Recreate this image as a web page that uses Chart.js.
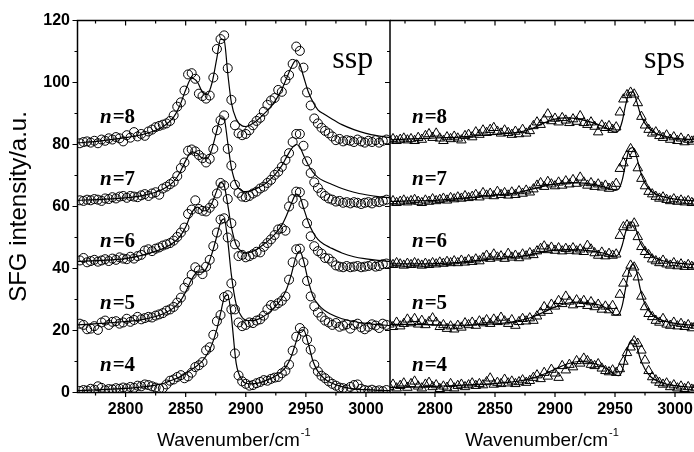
<!DOCTYPE html>
<html><head><meta charset="utf-8">
<script src="https://cdn.jsdelivr.net/npm/chart.js"></script>
<style>
html,body{margin:0;padding:0;background:#fff;overflow:hidden;width:694px;height:452px;}
#wrap{position:relative;width:694px;height:452px;overflow:hidden;background:#fff;}
canvas{position:absolute;top:0;display:block;}
#c1{left:0;}
#c2{left:380px;}
</style></head><body>
<div id="wrap"><canvas id="c1" width="400" height="452"></canvas><canvas id="c2" width="330" height="452"></canvas></div>
<script>
// ---------- data ----------
const wavenumbers = [2762,2765,2768,2771,2774,2777,2780,2783,2786,2789,
2792,2795,2798,2801,2804,2807,2810,2813,2816,2819,
2822,2825,2828,2831,2834,2837,2840,2843,2846,2849,
2852,2855,2858,2861,2864,2867,2870,2873,2876,2879,
2882,2885,2888,2891,2894,2897,2900,2903,2906,2909,
2912,2915,2918,2921,2924,2927,2930,2933,2936,2939,
2942,2945,2948,2951,2954,2957,2960,2963,2966,2969,
2972,2975,2978,2981,2984,2987,2990,2993,2996,2999,
3002,3005,3008,3011,3014,3017];

const ssp4 = [0.5,0.8,0.6,1.2,0.9,2.0,1.5,0.7,1.1,1.0,
1.4,1.2,1.6,1.3,1.8,1.5,2.2,2.0,2.6,2.4,
2.0,1.6,1.2,1.4,2.6,3.8,4.2,5.0,5.6,4.6,
5.2,6.4,8.2,8.8,9.8,13.6,14.6,18.6,23.0,25.0,
30.8,31.4,26.8,12.6,5.5,3.6,2.8,2.2,2.4,3.0,
3.4,4.0,3.8,4.4,4.8,5.0,6.2,7.0,9.0,13.5,
18.0,20.8,19.6,17.0,13.8,9.0,6.8,5.4,4.6,3.6,
2.8,2.2,1.6,1.4,1.0,1.8,2.4,2.6,1.2,0.8,
0.6,0.9,0.5,0.7,0.4,0.8];
const ssp5 = [22.2,21.8,20.4,20.6,21.4,20.2,22.6,23.2,21.8,22.8,
23.0,22.2,22.6,23.8,22.8,23.4,24.4,23.6,24.0,24.4,
24.2,24.8,25.2,25.6,26.4,26.8,27.6,29.0,30.6,33.8,
35.6,38.0,40.4,39.4,38.2,40.6,42.8,47.2,51.6,55.8,
56.2,50.0,35.2,26.8,22.6,21.4,21.8,22.6,22.4,23.2,
23.6,24.8,26.8,28.2,28.0,28.8,29.6,31.0,36.4,42.0,
46.2,46.4,42.0,36.0,31.0,27.8,25.8,24.4,23.2,22.6,
21.8,22.4,21.2,21.6,22.0,20.6,21.8,22.2,21.0,20.4,
21.2,22.0,21.6,20.8,22.2,21.8];
const ssp6 = [42.6,43.4,42.0,42.4,42.8,42.2,42.6,43.0,42.4,43.2,
42.8,43.6,43.2,43.0,43.8,43.2,44.0,44.4,45.8,46.2,
45.6,46.4,46.8,47.4,47.8,48.2,49.0,50.2,51.6,53.2,
57.6,59.0,62.0,59.2,58.6,58.4,59.6,61.0,64.2,67.6,
66.8,62.4,54.6,47.8,44.0,44.4,43.6,44.0,44.6,45.4,
45.2,47.0,48.2,49.4,50.8,52.6,53.0,52.2,60.0,62.4,
64.8,64.6,60.8,54.6,50.4,47.2,45.6,44.8,43.4,43.2,
42.2,41.0,40.6,40.4,40.8,40.4,40.6,40.8,40.4,40.6,
40.8,41.2,40.6,40.8,41.4,41.6];
const ssp7 = [62.0,61.8,62.2,62.0,62.4,62.2,61.8,62.6,62.4,63.0,
62.6,63.2,63.4,62.8,63.4,63.2,63.0,63.6,64.0,63.4,
64.2,64.6,63.8,65.8,66.4,67.2,68.0,69.8,72.4,74.2,
78.0,78.4,77.8,76.6,75.6,74.2,75.4,78.6,84.6,87.8,
89.4,78.6,73.2,67.0,64.4,63.2,63.0,63.4,64.2,64.8,
65.8,66.4,67.6,68.6,70.2,71.2,72.8,75.0,77.2,80.8,
83.4,83.4,79.6,74.6,70.8,67.8,66.0,64.4,63.4,62.6,
62.2,61.6,61.8,61.2,61.4,61.0,61.4,61.2,60.8,61.2,
61.4,61.0,61.6,61.4,61.8,62.2];
const ssp8 = [80.4,80.8,81.0,80.6,81.2,80.4,81.6,81.2,82.0,81.6,
82.4,82.0,81.0,83.0,82.2,84.0,82.6,83.4,82.8,84.2,
84.8,85.6,86.0,86.4,86.8,87.6,89.4,92.2,93.6,97.4,
102.6,103.0,101.2,96.4,95.6,94.8,95.8,101.6,110.8,114.0,
115.2,104.6,94.4,86.2,83.6,83.0,83.4,84.6,86.2,87.6,
88.6,90.6,92.8,94.2,95.0,97.6,97.0,100.8,102.4,106.0,
111.6,110.2,104.8,96.8,92.6,88.4,86.8,85.4,84.4,83.6,
82.6,81.4,81.8,81.0,81.4,81.2,80.8,81.6,81.0,80.6,
81.2,80.8,81.4,80.6,81.2,81.6];

const sspFitX = [2760,2780,2800,2815,2825,2832,2840,2845,2850,2855,
2860,2864,2868,2872,2876,2879,2882,2885,2888,2892,
2897,2900,2905,2910,2915,2920,2925,2930,2934,2938,
2942,2945,2948,2952,2956,2960,2965,2970,2980,2990,
3000,3010,3020];
const sspFit4 = [0.6,0.9,1.3,1.8,2.4,3.0,4.2,5.0,6.2,7.4,
8.8,10.2,12.4,15.6,20.5,25.5,30.5,31.5,24.5,9.5,
4.0,3.0,2.8,3.0,3.6,4.4,5.4,6.8,8.6,11.8,
16.5,20.0,20.2,15.8,10.0,6.8,4.6,3.3,1.9,1.2,
0.9,0.7,0.6];
const sspFit5 = [21.8,22.3,22.9,23.6,24.5,25.5,27.3,29.2,32.4,36.5,
38.8,38.8,40.6,45.0,50.5,54.8,56.0,49.0,38.0,28.5,
24.2,23.4,23.2,23.6,24.6,26.0,27.9,30.4,33.4,38.2,
44.0,45.6,42.6,36.0,31.0,28.5,26.6,25.4,23.8,22.9,
22.3,21.9,21.6];
const sspFit6 = [42.3,42.6,43.2,44.4,45.6,46.6,48.4,50.2,53.4,58.0,
59.8,58.6,58.8,61.2,65.2,67.8,66.8,60.6,53.4,47.6,
45.4,45.0,45.4,46.4,47.8,49.4,51.4,54.0,57.2,61.0,
64.0,63.2,59.6,55.0,51.6,49.4,47.8,46.8,45.0,43.8,
43.1,42.6,42.3];
const sspFit7 = [62.0,62.3,62.8,63.6,64.6,65.8,68.0,70.8,74.8,77.6,
77.0,75.6,75.6,78.8,84.6,88.6,88.2,80.6,72.6,67.2,
65.0,64.8,65.2,66.0,67.0,68.6,70.6,73.2,76.0,78.6,
80.0,79.2,76.6,73.4,71.0,69.4,68.2,67.4,65.8,64.6,
63.8,63.2,62.8];
const sspFit8 = [80.5,81.2,82.2,83.3,84.6,86.0,88.8,92.4,97.6,101.4,
100.0,96.8,96.2,100.0,108.0,114.0,113.6,103.0,93.6,88.2,
86.0,85.8,86.6,88.0,89.8,91.8,94.4,97.8,101.4,105.0,
107.2,105.8,102.0,97.0,93.6,91.2,89.8,88.6,86.4,84.8,
83.6,82.8,82.2];

const sps4 = [1.8,2.6,1.4,2.2,3.0,1.6,2.8,3.6,2.0,1.4,
2.6,3.2,1.8,2.4,1.2,2.0,1.6,2.8,1.4,2.2,
2.6,1.8,2.4,3.0,2.2,2.8,2.4,3.4,4.6,2.6,
3.2,2.8,4.2,3.0,3.6,2.8,3.4,4.0,3.2,3.8,
4.8,5.6,4.4,6.4,5.2,7.4,6.2,4.8,8.6,7.2,
9.0,8.2,10.2,9.4,11.0,10.2,9.0,8.6,9.2,7.8,
7.0,6.6,7.2,6.4,7.6,10.0,12.8,14.6,16.6,15.8,
13.6,10.4,7.0,5.0,4.0,3.2,2.6,3.0,1.8,2.4,
1.4,2.0,1.2,1.8,1.0,1.6];
const sps5 = [22.0,21.2,22.6,21.4,22.2,23.6,22.4,23.8,22.0,23.2,
21.8,22.8,24.0,22.6,21.2,21.8,20.6,21.4,20.4,21.6,
21.0,22.4,21.8,22.6,21.6,23.0,22.4,23.4,22.2,23.6,
22.8,24.2,23.0,22.2,23.4,21.6,22.8,23.8,23.0,24.0,
23.2,24.6,25.8,27.6,26.4,28.4,27.8,29.6,28.6,31.0,
29.4,28.2,29.8,28.6,29.6,28.0,29.2,27.6,28.4,26.8,
27.8,26.6,28.0,25.8,31.6,35.2,38.4,41.0,40.4,37.2,
31.0,27.6,25.4,24.4,23.2,22.6,23.8,22.0,21.6,22.6,
21.4,22.2,21.2,21.8,20.8,21.6];
const sps6 = [41.6,41.2,41.8,41.4,41.0,41.6,41.2,41.8,41.4,41.0,
41.6,41.2,41.8,41.4,42.0,41.6,42.2,41.8,42.4,41.8,
42.6,42.0,42.8,42.2,43.0,42.4,43.4,44.2,43.2,44.6,
43.6,44.0,43.2,44.8,43.6,44.2,43.4,44.6,44.0,45.0,
44.4,45.6,46.4,47.2,46.0,46.8,45.8,46.6,45.6,46.4,
45.8,46.6,45.6,46.2,45.4,47.4,46.2,45.0,44.2,45.2,
44.0,44.8,44.2,44.6,50.6,53.4,54.0,53.2,54.6,50.2,
47.0,45.4,44.4,43.0,42.4,41.8,42.6,41.4,41.0,41.8,
40.8,41.4,40.6,41.2,40.6,41.0];
const sps7 = [61.4,61.8,61.2,61.6,62.0,61.4,61.8,62.2,61.6,61.2,
62.0,61.6,62.4,61.8,62.2,62.6,62.0,62.8,62.4,63.0,
62.6,63.4,62.8,63.2,63.8,63.0,64.4,63.6,64.2,63.4,
64.8,63.8,64.4,63.6,64.6,63.8,65.0,64.2,65.2,64.6,
65.6,66.8,67.6,66.4,68.0,67.2,66.6,67.8,66.8,68.2,
67.2,68.6,67.4,69.4,67.8,66.8,67.6,66.4,67.2,66.2,
66.8,65.8,66.4,67.4,72.2,74.0,76.4,78.6,77.0,72.4,
69.0,66.6,64.8,64.0,63.2,62.6,63.0,62.2,61.8,62.4,
61.6,62.0,61.4,61.8,61.2,61.6];
const sps8 = [81.4,81.8,81.2,81.6,82.0,81.4,81.8,81.2,82.2,81.6,
82.8,83.4,82.2,83.6,82.0,81.2,82.4,81.8,82.6,82.0,
81.4,82.8,83.2,82.4,84.0,83.2,84.6,83.8,84.8,85.4,
84.2,83.6,84.6,83.8,83.2,84.2,83.4,84.8,83.6,84.4,
86.0,87.2,86.4,88.0,89.8,87.6,88.4,87.2,88.6,87.8,
87.0,88.2,87.4,89.2,87.0,86.4,87.2,85.8,84.0,86.2,
85.4,86.0,84.8,85.6,90.4,94.6,96.0,96.8,96.2,93.4,
89.0,86.2,84.8,83.6,84.0,82.8,82.2,83.0,81.6,82.4,
81.2,82.0,80.8,81.6,81.0,81.8];

const spsFitX = [2762,2780,2800,2820,2840,2860,2870,2880,2890,2900,
2910,2920,2930,2940,2945,2950,2953,2956,2959,2962,
2965,2968,2971,2975,2980,2985,2990,3000,3017];
const spsFit4 = [1.6,1.7,2.0,2.3,2.7,3.2,3.7,4.5,5.8,7.5,9.2,10.0,9.6,8.4,7.2,5.8,5.4,7.0,12.0,16.0,17.0,15.0,11.0,7.5,5.0,3.8,3.0,2.2,1.6];
const spsFit5 = [22.0,22.0,21.8,21.7,22.0,22.5,23.2,24.2,25.8,27.6,28.8,29.2,28.8,27.8,26.6,25.0,25.2,28.0,34.0,39.5,41.5,39.0,33.5,28.5,25.5,24.0,23.2,22.3,21.6];
const spsFit6 = [41.5,41.5,41.6,42.0,42.8,43.4,43.8,44.5,45.3,45.9,46.1,46.0,45.7,45.0,44.4,44.0,44.6,47.5,52.0,55.0,55.0,52.0,48.5,46.0,44.2,43.2,42.5,41.8,41.3];
const spsFit7 = [61.6,61.8,62.0,62.6,63.3,64.0,64.6,65.5,66.5,67.2,67.6,67.6,67.2,66.4,65.8,65.2,65.6,68.5,74.0,78.5,79.0,76.0,71.5,67.5,65.0,63.8,63.2,62.4,61.8];
const spsFit8 = [81.5,81.8,82.1,82.4,83.0,83.6,84.0,85.0,86.8,88.2,88.6,88.2,87.2,85.8,84.8,84.0,84.4,87.5,93.0,96.8,97.0,94.0,90.0,86.8,84.6,83.4,82.8,82.0,81.5];

const xTickLabels = [2800,2850,2900,2950,3000];
const xMinorTicks = [2775,2825,2875,2925,2975];
const yTickLabels = [0,20,40,60,80,100,120];
const yMinorTicks = [10,30,50,70,90,110];
const seriesNames = ['4','5','6','7','8'];
const seriesLabelY = [7,27,47,67,87];

// ---------- drawing ----------
const SANS = '"Liberation Sans", Arial, Helvetica, sans-serif';
const SERIF = '"Liberation Serif", "Times New Roman", Times, serif';

function pts(xs, ys){ return xs.map((x,i)=>({x:x, y:ys[i]})); }

function buildDatasets(fitX, fits, dataSets, style, radius){
  const out = [];
  fits.forEach((f)=>{
    out.push({data:pts(fitX,f), borderColor:'#000', borderWidth:1.2, pointRadius:0,
      cubicInterpolationMode:'monotone', fill:false, order:2});
  });
  dataSets.forEach((d)=>{
    out.push({data:pts(wavenumbers,d), showLine:false, pointStyle:style, pointRadius:radius,
      pointBorderWidth:1, pointBorderColor:'#000', pointBackgroundColor:'rgba(255,255,255,0)',
      borderColor:'#000', order:1});
  });
  return out;
}

function decor(cfg){
  return {
    id:'decor',
    afterDatasetsDraw(chart){
      const {ctx, chartArea:a, scales} = chart;
      const x = scales.x, y = scales.y;
      ctx.save();
      ctx.strokeStyle='#000';
      ctx.lineWidth=1.5;
      ctx.beginPath();
      ctx.moveTo(a.left - (cfg.leftBorder?0.75:0), a.top); ctx.lineTo(a.right + (cfg.rightBorder?0.75:0), a.top);
      ctx.moveTo(a.left - (cfg.leftBorder?0.75:0), a.bottom); ctx.lineTo(a.right + (cfg.rightBorder?0.75:0), a.bottom);
      if (cfg.leftBorder){ ctx.moveTo(a.left, a.top); ctx.lineTo(a.left, a.bottom); }
      if (cfg.rightBorder){ ctx.moveTo(a.right, a.top); ctx.lineTo(a.right, a.bottom); }
      ctx.stroke();
      ctx.lineWidth=1.2;
      ctx.beginPath();
      const xt = (vals, lb, lt) => vals.forEach(v=>{
        const p = x.getPixelForValue(v);
        if (p < a.left-0.5 || p > a.right+0.5) return;
        ctx.moveTo(p, a.bottom); ctx.lineTo(p, a.bottom+lb);
        ctx.moveTo(p, a.top); ctx.lineTo(p, a.top+lt);
      });
      xt(xTickLabels, 4.5, 5); xt(xMinorTicks, 3, 3);
      if (cfg.yTicks){
        const yt = (vals, l) => vals.forEach(v=>{
          const p = y.getPixelForValue(v);
          ctx.moveTo(a.left-l, p); ctx.lineTo(a.left, p);
          ctx.moveTo(a.right-l, p); ctx.lineTo(a.right, p);
        });
        yt(yTickLabels, 5); yt(yMinorTicks, 3);
      }
      ctx.stroke();

      ctx.fillStyle='#000';
      ctx.textBaseline='alphabetic';
      ctx.textAlign='left';
      seriesNames.forEach((s,k)=>{
        const px = x.getPixelForValue(cfg.labelX), py = y.getPixelForValue(seriesLabelY[k]);
        ctx.font = 'italic bold 21px ' + SERIF;
        ctx.fillText('n', px, py);
        const w = ctx.measureText('n').width;
        ctx.font = 'bold 21px ' + SERIF;
        ctx.fillText('=' + s, px + w + 1, py);
      });
      ctx.font = '32px ' + SERIF;
      ctx.fillText(cfg.panel, x.getPixelForValue(cfg.panelX), y.getPixelForValue(104.7));
      const cx = (a.left + a.right)/2;
      ctx.font = '19px ' + SANS;
      const main = 'Wavenumber/cm';
      const w1 = ctx.measureText(main).width;
      ctx.font = '11px ' + SANS;
      const w2 = ctx.measureText('-1').width;
      const start = cx - (w1 + w2 + 1)/2;
      ctx.font = '19px ' + SANS;
      ctx.fillText(main, start, 446);
      ctx.font = '11px ' + SANS;
      ctx.fillText('-1', start + w1 + 1, 436);
      ctx.restore();
    }
  };
}

const tickFont = {family:SANS, size:16, weight:'bold'};

function xScale(min, max){
  return {type:'linear', min:min, max:max, grid:{display:false, drawTicks:false}, border:{display:false},
    ticks:{color:'#000', font:tickFont, padding:7, maxRotation:0, autoSkip:false, callback:v=>String(v)},
    afterBuildTicks:s=>{ s.ticks = xTickLabels.map(v=>({value:v})); },
    afterFit:s=>{ s.height = 59.5; }};
}

new Chart(document.getElementById('c1'), {
  type:'line',
  data:{datasets: buildDatasets(sspFitX, [sspFit4,sspFit5,sspFit6,sspFit7,sspFit8], [ssp4,ssp5,ssp6,ssp7,ssp8], 'circle', 4.5)},
  options:{
    responsive:false, animation:false, events:[],
    layout:{padding:{left:0, right:10, top:20.5, bottom:0}},
    plugins:{legend:{display:false}, tooltip:{enabled:false}},
    scales:{
      x: xScale(2760, 3020),
      y:{type:'linear', min:0, max:120, grid:{display:false, drawTicks:false}, border:{display:false},
        ticks:{color:'#000', font:tickFont, padding:7.5, autoSkip:false, callback:v=>String(v)},
        afterBuildTicks:s=>{ s.ticks = yTickLabels.map(v=>({value:v})); },
        afterFit:s=>{ s.width = 77.5; },
        title:{display:true, text:'SFG intensity/a.u.', color:'#000', font:{family:SANS, size:24}, padding:{top:4.5, bottom:0}}}
    }
  },
  plugins:[decor({leftBorder:true, rightBorder:true, yTicks:true, labelX:2778.7, panel:'ssp', panelX:2972})]
});

new Chart(document.getElementById('c2'), {
  type:'line',
  data:{datasets: buildDatasets(spsFitX, [spsFit4,spsFit5,spsFit6,spsFit7,spsFit8], [sps4,sps5,sps6,sps7,sps8], 'triangle', 5.5)},
  options:{
    responsive:false, animation:false, events:[],
    layout:{padding:{left:10, right:16, top:20.5, bottom:0}},
    plugins:{legend:{display:false}, tooltip:{enabled:false}},
    scales:{
      x: xScale(2762.5, 3015.83),
      y:{type:'linear', display:false, min:0, max:120}
    }
  },
  plugins:[decor({leftBorder:false, rightBorder:false, yTicks:false, labelX:2780.8, panel:'sps', panelX:2974.2})]
});
</script>
</body></html>
